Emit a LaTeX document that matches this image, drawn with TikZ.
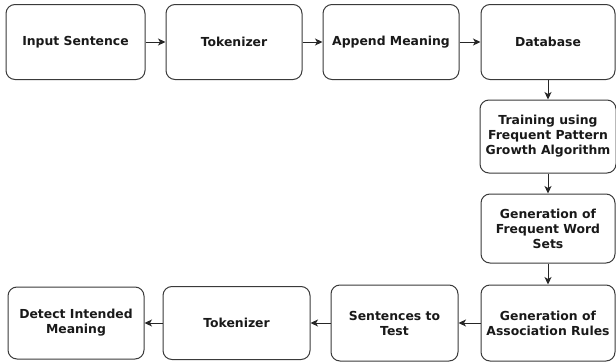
\documentclass[tikz,border=0pt]{standalone}
\usepackage{fontspec}
\setmainfont{DejaVu Sans}
\usepackage{tikz}
\usetikzlibrary{shapes, arrows, arrows.meta, positioning}
\definecolor{edgegray}{HTML}{3A3A3A}
\tikzstyle{etapa} = [draw=edgegray, fill=white, line width=1pt, rectangle, rounded corners=9pt, align=center, inner sep=2pt, font=\fontsize{12.4}{15}\selectfont\bfseries, text=black!90]
\tikzstyle{flecha} = [draw=black!85, line width=0.9pt, -{Stealth[length=7.5pt, width=7pt, inset=2pt]}]

\begin{document}
\begin{tikzpicture}[x=1pt, y=-1pt]
	\useasboundingbox (0,0) rectangle (616,364);
	% fila superior
	\node [etapa, minimum width=139pt, minimum height=75pt] (entrada) at (75.5,42) {Input Sentence};
	\node [etapa, minimum width=136pt, minimum height=75pt] (token) at (234,42) {Tokenizer};
	\node [etapa, minimum width=136pt, minimum height=75pt] (significado) at (391,42) {Append Meaning};
	\node [etapa, minimum width=134pt, minimum height=75pt] (base) at (548,42) {Database};
	% columna derecha
	\node [etapa, minimum width=136pt, minimum height=73pt] (entrenamiento) at (548,136.5) {Training using\\Frequent Pattern\\Growth Algorithm};
	\node [etapa, minimum width=134pt, minimum height=69pt] (frecuentes) at (548,228.5) {Generation of\\Frequent Word\\Sets};
	\node [etapa, minimum width=134pt, minimum height=76pt] (reglas) at (548,323) {Generation of\\Association Rules};
	% fila inferior
	\node [etapa, minimum width=127pt, minimum height=76pt] (prueba) at (394.5,323) {Sentences to\\Test};
	\node [etapa, minimum width=147pt, minimum height=73pt] (token2) at (236.5,323) {Tokenizer};
	\node [etapa, minimum width=136pt, minimum height=72pt] (detectar) at (76,323) {Detect Intended\\Meaning};

	\draw [flecha] (entrada) -- (token);
	\draw [flecha] (token) -- (significado);
	\draw [flecha] (significado) -- (base);
	\draw [flecha] (base) -- (entrenamiento);
	\draw [flecha] (entrenamiento) -- (frecuentes);
	\draw [flecha] (frecuentes) -- (reglas);
	\draw [flecha] (reglas) -- (prueba);
	\draw [flecha] (prueba) -- (token2);
	\draw [flecha] (token2) -- (detectar);
\end{tikzpicture}
\end{document}
